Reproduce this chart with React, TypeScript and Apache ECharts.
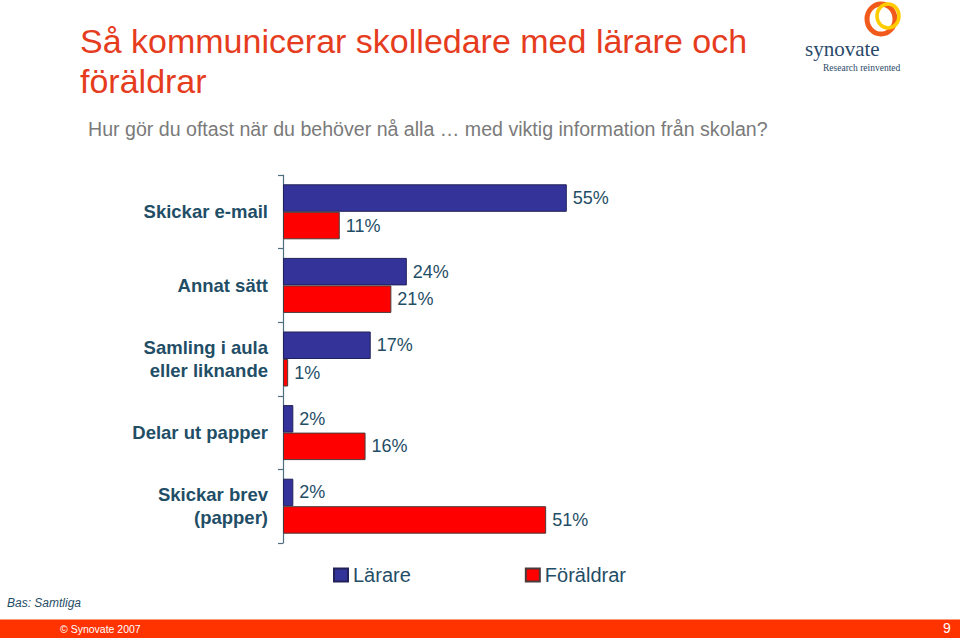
import React, { useEffect, useRef } from "react";
import * as echarts from "echarts";

const categories = [
  "Skickar e-mail",
  "Annat sätt",
  "Samling i aula\neller liknande",
  "Delar ut papper",
  "Skickar brev\n(papper)",
];
const seriesNames = ["Lärare", "Föräldrar"];
const lararValues = [55, 24, 17, 2, 2];
const foraldrarValues = [11, 21, 1, 16, 51];

const FONT = "'Liberation Sans', Arial, Helvetica, sans-serif";
const SERIF = "'Liberation Serif', 'Times New Roman', serif";
const TEAL = "#1f4e66";

export default function App() {
  const ref = useRef<HTMLDivElement>(null);
  useEffect(() => {
    if (!ref.current) return;
    const chart = echarts.init(ref.current, null, { renderer: "svg" });
    const labelCfg = {
      show: true,
      position: "right",
      distance: 6,
      color: TEAL,
      fontSize: 18,
      fontFamily: FONT,
      formatter: "{c}%",
    };
    chart.setOption({
      animation: false,
      backgroundColor: "#ffffff",
      textStyle: { fontFamily: FONT },
      grid: { left: 283, top: 175, width: 516, height: 368, containLabel: false },
      xAxis: { type: "value", min: 0, max: 100, show: false },
      yAxis: {
        type: "category",
        inverse: true,
        data: categories,
        axisLine: { show: true, lineStyle: { color: "#4f6f80", width: 1.2 } },
        axisTick: { show: true, length: 5, lineStyle: { color: "#4f6f80", width: 1.2 } },
        axisLabel: {
          color: TEAL,
          fontSize: 18.5,
          fontWeight: "bold",
          fontFamily: FONT,
          lineHeight: 23,
          margin: 15,
          align: "right",
        },
        splitLine: { show: false },
      },
      legend: {
        data: seriesNames,
        left: 333,
        top: 565,
        padding: 0,
        itemWidth: 14,
        itemHeight: 13,
        itemGap: 114,
        icon: "rect",
        textStyle: { color: TEAL, fontSize: 20, fontFamily: FONT },
      },
      series: [
        {
          name: seriesNames[0],
          type: "bar",
          data: lararValues,
          barWidth: 27.5,
          barGap: "0%",
          itemStyle: { color: "#333399", borderColor: "#22225a", borderWidth: 1 },
          label: labelCfg,
        },
        {
          name: seriesNames[1],
          type: "bar",
          data: foraldrarValues,
          barWidth: 27.5,
          barGap: "0%",
          itemStyle: { color: "#ff0000", borderColor: "#4a3a3a", borderWidth: 1 },
          label: labelCfg,
        },
      ],
      graphic: [
        {
          type: "text",
          left: 80,
          top: 24,
          style: {
            text: "Så kommunicerar skolledare med lärare och",
            fill: "#e63c1e",
            font: `34px ${FONT}`,
          },
        },
        {
          type: "text",
          left: 80,
          top: 64,
          style: { text: "föräldrar", fill: "#e63c1e", font: `34px ${FONT}` },
        },
        {
          type: "text",
          left: 88,
          top: 119,
          style: {
            text: "Hur gör du oftast när du behöver nå alla … med viktig information från skolan?",
            fill: "#7a7a7a",
            font: `19.6px ${FONT}`,
          },
        },
        // logo rings
        {
          type: "ellipse",
          shape: { cx: 881, cy: 19, rx: 14, ry: 15 },
          style: { fill: "none", stroke: "#f25a1c", lineWidth: 5 },
        },
        {
          type: "ellipse",
          shape: { cx: 888, cy: 16, rx: 11, ry: 12 },
          style: { fill: "none", stroke: "#ffcc00", lineWidth: 3.5 },
        },
        {
          type: "text",
          left: 805,
          top: 38,
          style: { text: "synovate", fill: "#2a4a6a", font: `21px ${SERIF}` },
        },
        {
          type: "text",
          left: 823,
          top: 63,
          style: { text: "Research reinvented", fill: "#2a4a6a", font: `9.5px ${SERIF}` },
        },
        {
          type: "text",
          left: 7,
          top: 597,
          style: { text: "Bas: Samtliga", fill: TEAL, font: `italic 12px ${FONT}` },
        },
        {
          type: "rect",
          shape: { x: 0, y: 619, width: 960, height: 1 },
          style: { fill: "#ff9a7a" },
        },
        {
          type: "rect",
          shape: { x: 0, y: 620, width: 960, height: 18 },
          style: { fill: "#ff3300" },
        },
        {
          type: "text",
          left: 60,
          top: 623,
          style: { text: "© Synovate 2007", fill: "#ffffff", font: `10.5px ${FONT}` },
        },
        {
          type: "text",
          left: 943,
          top: 621,
          style: { text: "9", fill: "#ffffff", font: `14px ${FONT}` },
        },
      ],
    });
    return () => chart.dispose();
  }, []);
  return (
    <div
      ref={ref}
      style={{ position: "fixed", left: 0, top: 0, width: 960, height: 640, background: "#fff" }}
    />
  );
}
